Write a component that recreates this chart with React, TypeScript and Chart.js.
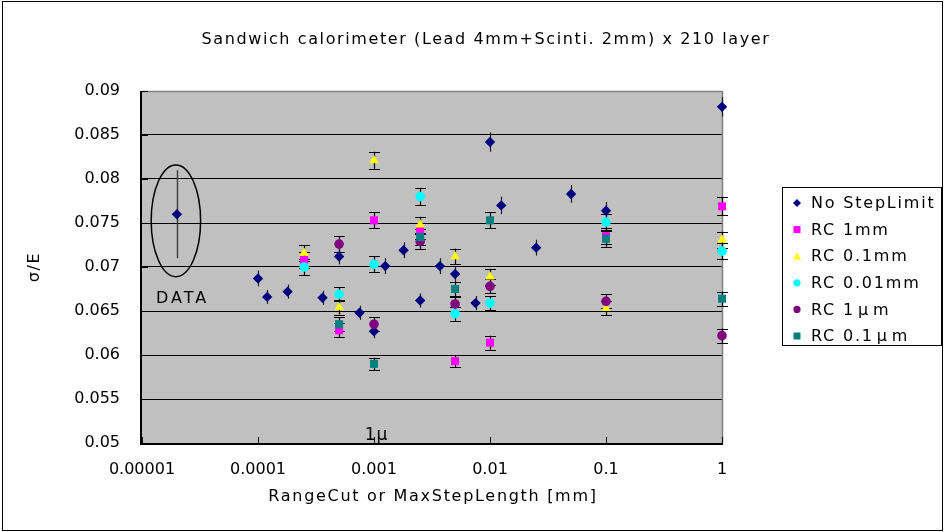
import React, { useEffect, useRef } from 'react';
import { Chart, registerables } from 'chart.js';

Chart.register(...registerables);

// ---------- data ----------
const titleText = 'Sandwich calorimeter (Lead 4mm+Scinti. 2mm) x 210 layer';
const xTitle = 'RangeCut or MaxStepLength [mm]';
const yTitle = 'σ/E';

const xTickValues = [0.00001, 0.0001, 0.001, 0.01, 0.1, 1];
const xTickLabels = ['0.00001', '0.0001', '0.001', '0.01', '0.1', '1'];
const yTickValues = [0.05, 0.055, 0.06, 0.065, 0.07, 0.075, 0.08, 0.085, 0.09];
const yTickLabels = ['0.05', '0.055', '0.06', '0.065', '0.07', '0.075', '0.08', '0.085', '0.09'];

const noStepX = [0.0001, 0.00012, 0.00018, 0.00036, 0.0005, 0.00075, 0.001, 0.00125, 0.0018, 0.0025, 0.0037, 0.005, 0.0075, 0.01, 0.0125, 0.025, 0.05, 0.1, 1];
const noStepY = [0.0687, 0.0666, 0.0672, 0.0665, 0.0712, 0.0648, 0.0627, 0.0701, 0.0719, 0.0662, 0.0701, 0.0692, 0.0659, 0.0842, 0.0770, 0.0722, 0.0783, 0.0764, 0.0882];
const noStepErr = [0.0009, 0.0008, 0.0008, 0.0008, 0.0009, 0.0008, 0.0008, 0.0009, 0.0009, 0.0008, 0.0009, 0.0009, 0.0008, 0.0011, 0.0010, 0.0009, 0.0010, 0.0010, 0.0011];

const rcMmX = [0.00025, 0.0005, 0.001, 0.0025, 0.005, 0.01, 0.1, 1];
const rc1mmY = [0.0708, 0.0628, 0.0753, 0.0741, 0.0593, 0.0614, 0.0735, 0.0769];
const rc1mmErr = [0.0009, 0.0008, 0.0009, 0.0009, 0.0007, 0.0008, 0.0009, 0.0010];
const rc01mmY = [0.0716, 0.0654, 0.0821, 0.0748, 0.0712, 0.0689, 0.0653, 0.0731];
const rc01mmErr = [0.0009, 0.0008, 0.0010, 0.0009, 0.0009, 0.0009, 0.0008, 0.0009];
const rc001mmY = [0.0700, 0.0669, 0.0703, 0.0780, 0.0647, 0.0659, 0.0751, 0.0718];
const rc001mmErr = [0.0009, 0.0008, 0.0009, 0.0010, 0.0008, 0.0008, 0.0009, 0.0009];

const rcUmX = [0.0005, 0.001, 0.0025, 0.005, 0.01, 0.1, 1];
const rc1umY = [0.0726, 0.0635, 0.0729, 0.0658, 0.0678, 0.0661, 0.0622];
const rc1umErr = [0.0009, 0.0008, 0.0009, 0.0008, 0.0008, 0.0008, 0.0008];
const rc01umY = [0.0635, 0.0590, 0.0734, 0.0675, 0.0753, 0.0732, 0.0664];
const rc01umErr = [0.0008, 0.0007, 0.0009, 0.0008, 0.0009, 0.0009, 0.0008];

const measX = [0.00002];
const measY = [0.076];
const measErr = [0.005];
const measLabel = 'DATA';
const ellipseX = [0.000012, 0.000032];
const ellipseY = [0.0689, 0.0816];
const measLabelPos = [0.0000132, 0.0664];
const microLabel = '1μ';
const microLabelPos = [0.00105, 0.0508];

type Series = { label: string; xs: number[]; ys: number[]; errs: number[]; color: string; style: string; radius: number; caps: boolean; };

const series: Series[] = [
  { label: 'No StepLimit', xs: noStepX, ys: noStepY, errs: noStepErr, color: '#000080', style: 'rectRot', radius: 5.2, caps: false },
  { label: 'RC 1mm', xs: rcMmX, ys: rc1mmY, errs: rc1mmErr, color: '#FF00FF', style: 'rect', radius: 5.7, caps: true },
  { label: 'RC 0.1mm', xs: rcMmX, ys: rc01mmY, errs: rc01mmErr, color: '#FFFF00', style: 'triangle', radius: 5.5, caps: true },
  { label: 'RC 0.01mm', xs: rcMmX, ys: rc001mmY, errs: rc001mmErr, color: '#00FFFF', style: 'circle', radius: 4.8, caps: true },
  { label: 'RC 1μm', xs: rcUmX, ys: rc1umY, errs: rc1umErr, color: '#800080', style: 'circle', radius: 4.8, caps: true },
  { label: 'RC 0.1μm', xs: rcUmX, ys: rc01umY, errs: rc01umErr, color: '#008080', style: 'rect', radius: 5.7, caps: true },
];

const FONT = '"DejaVu Sans", sans-serif';

function drawMarker(ctx: CanvasRenderingContext2D, style: string, x: number, y: number, r: number, color: string) {
  ctx.save();
  ctx.fillStyle = color;
  ctx.beginPath();
  if (style === 'rectRot') {
    ctx.moveTo(x, y - r); ctx.lineTo(x + r, y); ctx.lineTo(x, y + r); ctx.lineTo(x - r, y); ctx.closePath();
  } else if (style === 'rect') {
    ctx.rect(x - r, y - r, 2 * r, 2 * r);
  } else if (style === 'triangle') {
    ctx.moveTo(x, y - r); ctx.lineTo(x + r, y + r * 0.8); ctx.lineTo(x - r, y + r * 0.8); ctx.closePath();
  } else {
    ctx.arc(x, y, r, 0, Math.PI * 2);
  }
  ctx.fill();
  ctx.restore();
}

// draw text where a "μ" gets extra room, as with a full-width glyph
function drawSpacedLabel(ctx: CanvasRenderingContext2D, text: string, x: number, y: number) {
  let cx = x;
  for (const part of text.split(/(μ)/)) {
    if (!part) continue;
    if (part === 'μ') {
      cx += 3;
      ctx.fillText(part, cx, y);
      cx += ctx.measureText(part).width + 3;
    } else {
      ctx.fillText(part, cx, y);
      cx += ctx.measureText(part).width;
    }
  }
}

const decoPlugin = {
  id: 'deco',
  beforeDraw(chart: any) {
    const { ctx, chartArea: a } = chart;
    ctx.save();
    ctx.fillStyle = '#FFFFFF';
    ctx.fillRect(0, 0, chart.width, chart.height);
    ctx.fillStyle = '#C0C0C0';
    ctx.fillRect(a.left, a.top, a.right - a.left, a.bottom - a.top);
    ctx.restore();
  },
  beforeDatasetsDraw(chart: any) {
    const { ctx, chartArea: a, scales } = chart;
    const xs = scales.x, ys = scales.y;
    ctx.save();
    ctx.strokeStyle = '#808080';
    ctx.lineWidth = 1.5;
    ctx.beginPath();
    ctx.moveTo(a.left, a.top + 0.5); ctx.lineTo(a.right + 0.5, a.top + 0.5); ctx.lineTo(a.right + 0.5, a.bottom);
    ctx.stroke();
    ctx.strokeStyle = '#000000';
    ctx.lineWidth = 2;
    ctx.beginPath();
    ctx.moveTo(a.left - 1, a.top); ctx.lineTo(a.left - 1, a.bottom + 1); ctx.lineTo(a.right + 1, a.bottom + 1);
    ctx.stroke();
    ctx.lineWidth = 1;
    ctx.beginPath();
    xTickValues.forEach((v) => {
      const px = Math.round(xs.getPixelForValue(v)) + 0.5;
      ctx.moveTo(px, a.bottom); ctx.lineTo(px, a.bottom - 6);
    });
    yTickValues.forEach((v) => {
      const py = Math.round(ys.getPixelForValue(v)) + 0.5;
      ctx.moveTo(a.left, py); ctx.lineTo(a.left + 6, py);
    });
    ctx.stroke();
    const drawErr = (xv: number, yv: number, ev: number, caps: boolean, color: string, lw: number) => {
      const px = Math.round(xs.getPixelForValue(xv)) + 0.5;
      const y1 = ys.getPixelForValue(yv + ev);
      const y2 = ys.getPixelForValue(yv - ev);
      ctx.strokeStyle = color;
      ctx.lineWidth = lw;
      ctx.beginPath();
      ctx.moveTo(px, y1); ctx.lineTo(px, y2);
      if (caps) {
        const c1 = Math.round(y1) + 0.5, c2 = Math.round(y2) + 0.5;
        ctx.moveTo(px - 5.5, c1); ctx.lineTo(px + 5.5, c1);
        ctx.moveTo(px - 5.5, c2); ctx.lineTo(px + 5.5, c2);
      }
      ctx.stroke();
    };
    for (let i = series.length - 1; i >= 0; i--) {
      const s = series[i];
      s.xs.forEach((xv, j) => drawErr(xv, s.ys[j], s.errs[j], s.caps, s.caps ? '#000000' : '#202020', 1.2));
    }
    measX.forEach((xv, j) => drawErr(xv, measY[j], measErr[j], false, '#404040', 1.5));
    ctx.restore();
  },
  afterDraw(chart: any) {
    const { ctx, chartArea: a, scales } = chart;
    const xs = scales.x, ys = scales.y;
    ctx.save();
    ctx.fillStyle = '#000000';
    ctx.textBaseline = 'middle';
    ctx.font = '16px ' + FONT;
    (ctx as any).letterSpacing = '1.6px';
    ctx.textAlign = 'center';
    ctx.fillText(titleText, 486, 40);
    (ctx as any).letterSpacing = '1.7px';
    ctx.fillText(xTitle, (a.left + a.right) / 2 + 1, 497);
    ctx.save();
    ctx.translate(35, (a.top + a.bottom) / 2);
    ctx.rotate(-Math.PI / 2);
    ctx.fillText(yTitle, 0, 0);
    ctx.restore();
    (ctx as any).letterSpacing = '3px';
    ctx.textAlign = 'left';
    ctx.fillText(measLabel, xs.getPixelForValue(measLabelPos[0]), ys.getPixelForValue(measLabelPos[1]));
    (ctx as any).letterSpacing = '1px';
    ctx.font = '17px ' + FONT;
    ctx.textAlign = 'center';
    ctx.fillText(microLabel, xs.getPixelForValue(microLabelPos[0]), ys.getPixelForValue(microLabelPos[1]));
    ctx.font = '16px ' + FONT;
    const ex1 = xs.getPixelForValue(ellipseX[0]), ex2 = xs.getPixelForValue(ellipseX[1]);
    const ey1 = ys.getPixelForValue(ellipseY[1]), ey2 = ys.getPixelForValue(ellipseY[0]);
    ctx.strokeStyle = '#000000';
    ctx.lineWidth = 1.5;
    ctx.beginPath();
    ctx.ellipse((ex1 + ex2) / 2, (ey1 + ey2) / 2, (ex2 - ex1) / 2, (ey2 - ey1) / 2, 0, 0, Math.PI * 2);
    ctx.stroke();
    const lx = 782.5, ly = 187.5, lw = 159, lh = 158;
    ctx.fillStyle = '#FFFFFF';
    ctx.fillRect(lx, ly, lw, lh);
    ctx.strokeStyle = '#000000';
    ctx.lineWidth = 1;
    ctx.strokeRect(lx, ly, lw, lh);
    ctx.textAlign = 'left';
    (ctx as any).letterSpacing = '1.8px';
    series.forEach((s, i) => {
      const cy = 203 + i * 26.6;
      const mr = s.style === 'rectRot' ? 4 : s.style === 'rect' ? 3.5 : s.style === 'triangle' ? 4 : 3.6;
      drawMarker(ctx, s.style, 797, cy, mr, s.color);
      ctx.fillStyle = '#000000';
      drawSpacedLabel(ctx, s.label, 811, cy + 1);
    });
    (ctx as any).letterSpacing = '0px';
    ctx.strokeStyle = '#000000';
    ctx.lineWidth = 1;
    ctx.strokeRect(2.5, 1.5, 940, 529);
    ctx.restore();
  },
};

export default function App() {
  const ref = useRef<HTMLCanvasElement>(null);
  useEffect(() => {
    document.body.style.margin = '0';
    const n = series.length;
    const datasets: any[] = series.map((s, i) => ({
      label: s.label,
      data: s.xs.map((x, j) => ({ x, y: s.ys[j] })),
      pointStyle: s.style,
      pointRadius: s.radius,
      pointHoverRadius: s.radius,
      backgroundColor: s.color,
      borderColor: s.color,
      borderWidth: 0,
      showLine: false,
      clip: false,
      order: n - i,
    }));
    datasets.push({
      label: measLabel,
      data: measX.map((x, j) => ({ x, y: measY[j] })),
      pointStyle: 'rectRot',
      pointRadius: 5.2,
      backgroundColor: '#000080',
      borderColor: '#000080',
      borderWidth: 0,
      showLine: false,
      clip: false,
      order: 0,
    });
    const chart = new Chart(ref.current as HTMLCanvasElement, {
      type: 'scatter',
      data: { datasets },
      options: {
        responsive: false,
        animation: false,
        devicePixelRatio: 1,
        layout: { padding: { top: 91, right: 222, left: 0, bottom: 0 } },
        plugins: { legend: { display: false }, title: { display: false }, tooltip: { enabled: false } },
        events: [],
        scales: {
          x: {
            type: 'logarithmic',
            min: 0.00001,
            max: 1,
            afterFit: (s: any) => { s.height = 89; },
            afterBuildTicks: (s: any) => { s.ticks = xTickValues.map((v) => ({ value: v })); },
            ticks: {
              autoSkip: false,
              maxRotation: 0,
              padding: 9,
              color: '#000000',
              font: { family: FONT, size: 16 },
              callback: (v: any) => xTickLabels[xTickValues.indexOf(Number(v))] ?? '',
            },
            grid: { display: false },
            border: { display: false },
          },
          y: {
            type: 'linear',
            min: 0.05,
            max: 0.09,
            afterFit: (s: any) => { s.width = 142; },
            afterBuildTicks: (s: any) => { s.ticks = yTickValues.map((v) => ({ value: v })); },
            ticks: {
              padding: 22,
              color: '#000000',
              font: { family: FONT, size: 16 },
              callback: (v: any) => yTickLabels[yTickValues.indexOf(Number(v))] ?? '',
            },
            grid: { color: '#000000', lineWidth: 1, drawTicks: false },
            border: { display: false },
          },
        },
      } as any,
      plugins: [decoPlugin],
    });
    return () => chart.destroy();
  }, []);
  return (
    <div style={{ position: 'absolute', left: 0, top: 0, width: 944, height: 532 }}>
      <canvas ref={ref} width={944} height={532} style={{ display: 'block', width: 944, height: 532 }} />
    </div>
  );
}
